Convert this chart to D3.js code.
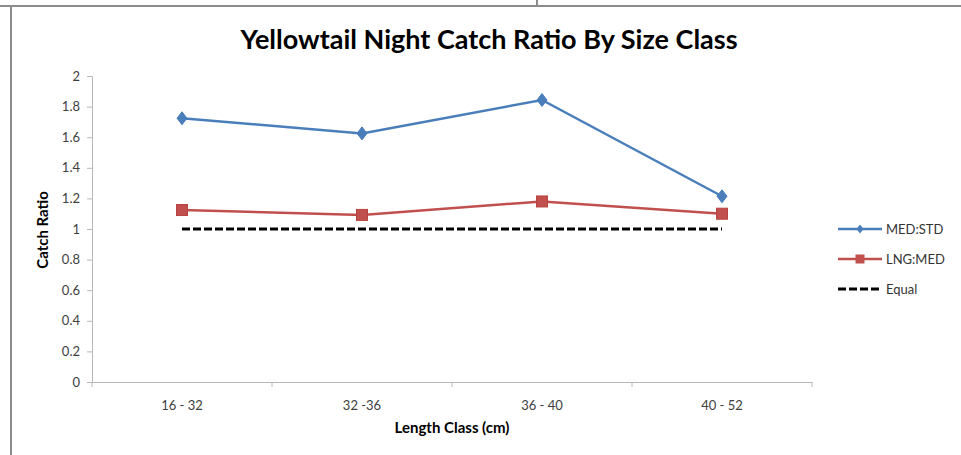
<!DOCTYPE html>
<html>
<head>
<meta charset="utf-8">
<script src="https://cdn.jsdelivr.net/npm/d3@7"></script>
<style>
  html, body { margin: 0; padding: 0; background: #fff; }
  svg { display: block; font-family: Lato, "Open Sans", sans-serif; }
</style>
</head>
<body>
<svg id="chart" width="961" height="455"></svg>
<script>
// Length classes along the x axis
const categories = ["16 - 32", "32 -36", "36 - 40", "40 - 52"];

// Catch ratios per length class
const medStd = [1.724, 1.625, 1.843, 1.214];
const lngMed = [1.124, 1.092, 1.180, 1.100];
const equal  = [1, 1, 1, 1];

const yTicks = [0, 0.2, 0.4, 0.6, 0.8, 1, 1.2, 1.4, 1.6, 1.8, 2];

const seriesNames = ["MED:STD", "LNG:MED", "Equal"];

const svg = d3.select("#chart");

// Page frame around the embedded chart
const frame = svg.append("g").attr("stroke", "#8c8c8c").attr("stroke-width", 2).attr("fill", "none");
frame.append("line").attr("x1", 0).attr("x2", 961).attr("y1", 6).attr("y2", 6);
frame.append("line").attr("x1", 537).attr("x2", 537).attr("y1", 0).attr("y2", 6);
frame.append("line").attr("x1", 11).attr("x2", 11).attr("y1", 6).attr("y2", 455);

const plot = { left: 92, right: 812, top: 76, bottom: 382 };

const x = d3.scaleBand().domain(categories).range([plot.left, plot.right]);
const y = d3.scaleLinear().domain([0, 2]).range([plot.bottom, plot.top]);
const cx = d => x(d) + x.bandwidth() / 2;

// Title
svg.append("text")
  .attr("x", 489).attr("y", 49)
  .attr("text-anchor", "middle")
  .attr("font-size", 27).attr("font-weight", "bold").attr("fill", "#000")
  .text("Yellowtail Night Catch Ratio By Size Class");

// Y axis
const yAxis = svg.append("g")
  .attr("transform", `translate(${plot.left},0)`)
  .call(d3.axisLeft(y).tickValues(yTicks).tickSize(5).tickPadding(7).tickFormat(d3.format("")));
yAxis.select(".domain").attr("stroke", "#b8b8b8");
yAxis.selectAll(".tick line").attr("stroke", "#b8b8b8");
yAxis.selectAll(".tick text").attr("font-size", 13).attr("fill", "#404040").attr("font-family", "Lato, sans-serif");

// X axis: ticks sit on the band boundaries
const xAxis = svg.append("g")
  .attr("transform", `translate(0,${plot.bottom})`)
  .call(d3.axisBottom(x).tickSize(0).tickPadding(19));
xAxis.select(".domain").attr("stroke", "#b8b8b8");
xAxis.selectAll(".tick text").attr("font-size", 13).attr("fill", "#404040").attr("font-family", "Lato, sans-serif");
const bounds = categories.map(c => x(c)).concat([plot.right]);
xAxis.selectAll(".bound").data(bounds).enter().append("line")
  .attr("x1", d => d).attr("x2", d => d).attr("y1", 0).attr("y2", 5)
  .attr("stroke", "#b8b8b8");

// Axis titles
svg.append("text")
  .attr("transform", `translate(48,230) rotate(-90)`)
  .attr("text-anchor", "middle")
  .attr("font-size", 15).attr("font-weight", "bold").attr("fill", "#000")
  .text("Catch Ratio");
svg.append("text")
  .attr("x", 452).attr("y", 433)
  .attr("text-anchor", "middle")
  .attr("font-size", 15).attr("font-weight", "bold").attr("fill", "#000")
  .text("Length Class (cm)");

const line = d3.line().x((d, i) => cx(categories[i])).y(d => y(d));

// Equal reference line
svg.append("path").datum(equal)
  .attr("d", line).attr("fill", "none")
  .attr("stroke", "#000").attr("stroke-width", 3).attr("stroke-dasharray", "8,3");

// LNG:MED
svg.append("path").datum(lngMed)
  .attr("d", line).attr("fill", "none")
  .attr("stroke", "#C0504D").attr("stroke-width", 2.5);
svg.selectAll(".sq").data(lngMed).enter().append("rect")
  .attr("x", (d, i) => cx(categories[i]) - 5.5).attr("y", d => y(d) - 5.5)
  .attr("width", 11).attr("height", 11)
  .attr("fill", "#C0504D").attr("stroke", "#b9413e").attr("stroke-width", 1);

// MED:STD
svg.append("path").datum(medStd)
  .attr("d", line).attr("fill", "none")
  .attr("stroke", "#4A7EBB").attr("stroke-width", 2.5);
const diamond = "M0,-6.5L5,0L0,6.5L-5,0Z";
svg.selectAll(".dm").data(medStd).enter().append("path")
  .attr("d", diamond)
  .attr("transform", (d, i) => `translate(${cx(categories[i])},${y(d)})`)
  .attr("fill", "#4A7EBB").attr("stroke", "#4A7EBB");

// Legend
const legend = svg.append("g").attr("transform", "translate(838,0)");
const legendY = [229, 259, 289];
const lg = legend.selectAll("g").data(seriesNames).enter().append("g")
  .attr("transform", (d, i) => `translate(0,${legendY[i]})`);
lg.append("line")
  .attr("x1", 0).attr("x2", 44).attr("y1", 0).attr("y2", 0)
  .attr("stroke", (d, i) => ["#4A7EBB", "#C0504D", "#000"][i])
  .attr("stroke-width", (d, i) => i === 2 ? 3 : 2.5)
  .attr("stroke-dasharray", (d, i) => i === 2 ? "8,3" : null);
lg.filter((d, i) => i === 0).append("path")
  .attr("d", "M0,-4.5L3.5,0L0,4.5L-3.5,0Z").attr("transform", "translate(22,0)")
  .attr("fill", "#4A7EBB");
lg.filter((d, i) => i === 1).append("rect")
  .attr("x", 17.5).attr("y", -4.5).attr("width", 9).attr("height", 9)
  .attr("fill", "#C0504D");
lg.append("text")
  .attr("x", 48).attr("y", 0).attr("dy", "0.35em")
  .attr("font-size", 13).attr("fill", "#333")
  .text(d => d);
</script>
</body>
</html>
